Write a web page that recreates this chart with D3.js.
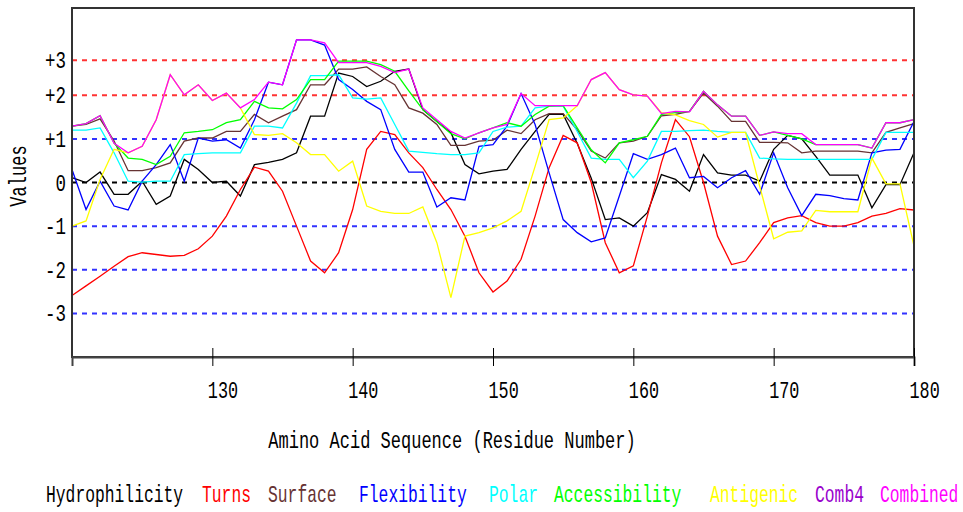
<!DOCTYPE html>
<html>
<head>
<meta charset="utf-8">
<script src="https://cdn.jsdelivr.net/npm/d3@7"></script>
<style>
  body { margin: 0; background: #fff; }
  text { font-family: "Liberation Mono", "DejaVu Sans Mono", monospace; fill: #000; }
</style>
</head>
<body>
<div id="chart"></div>
<script>
// residue numbers on the x axis
var residues = d3.range(120, 181);

// one value per residue
var hydrophilicity = [0.11,0.0,0.24,-0.27,-0.27,0.03,-0.5,-0.31,0.53,0.3,0.0,0.03,-0.31,0.41,0.46,0.53,0.68,1.52,1.52,2.51,2.43,2.2,2.32,2.55,2.6,1.67,1.4,1.14,0.41,0.2,0.26,0.3,0.76,1.17,1.56,1.56,0.9,0.1,-0.85,-0.81,-1.0,-0.69,0.18,0.07,-0.2,0.64,0.22,0.17,0.17,0.03,0.76,1.08,1.0,0.6,0.17,0.17,0.17,-0.58,-0.05,-0.05,0.68];
var turns = [-2.59,-2.37,-2.15,-1.92,-1.7,-1.61,-1.65,-1.69,-1.67,-1.52,-1.23,-0.77,-0.16,0.35,0.26,-0.2,-1.0,-1.8,-2.07,-1.61,-0.62,0.76,1.17,1.1,0.68,0.34,-0.16,-0.62,-1.23,-2.07,-2.51,-2.26,-1.76,-0.77,0.34,1.08,0.91,0.0,-1.38,-2.07,-1.91,-0.77,0.45,1.44,1.05,0.0,-1.23,-1.88,-1.8,-1.38,-0.92,-0.81,-0.76,-0.92,-1.0,-1.0,-0.92,-0.77,-0.71,-0.6,-0.63];
var surface = [1.29,1.33,1.46,0.95,0.27,0.27,0.34,0.45,0.95,1.02,1.02,1.17,1.17,1.56,1.37,1.52,1.67,2.24,2.24,2.6,2.6,2.65,2.43,2.24,1.71,1.59,1.33,0.85,0.85,0.95,0.97,1.2,1.12,1.44,1.58,1.58,1.21,0.72,0.56,0.91,0.95,1.06,1.53,1.56,1.63,2.05,1.75,1.4,1.4,0.92,0.92,0.91,0.68,0.72,0.72,0.72,0.72,0.68,1.15,1.25,1.35];
var flexibility = [0.3,-0.62,0.03,-0.54,-0.63,0.03,0.41,0.87,0.03,1.02,0.95,0.98,0.79,1.44,2.3,2.24,3.27,3.27,3.15,2.36,2.13,1.86,1.67,0.76,0.24,0.24,-0.56,-0.35,-0.4,0.83,0.87,1.29,2.04,1.33,0.22,-0.85,-1.15,-1.36,-1.27,-0.31,0.66,0.53,0.64,0.79,0.11,0.14,-0.12,0.11,0.27,-0.27,0.68,-0.12,-0.76,-0.27,-0.3,-0.37,-0.4,0.68,0.74,0.76,1.4];
var polar = [1.2,1.2,1.25,0.68,0.03,0.01,0.03,0.03,0.64,0.66,0.68,0.68,0.68,1.29,1.29,1.25,1.82,2.45,2.45,2.47,1.94,1.91,1.94,1.33,0.72,0.69,0.66,0.64,0.64,0.68,1.17,1.27,1.29,1.71,1.75,1.75,1.17,0.56,0.53,0.53,0.11,0.49,1.17,1.17,1.19,1.2,1.17,1.15,1.15,0.56,0.54,0.53,0.53,0.53,0.53,0.53,0.53,0.53,1.15,1.15,1.15];
var accessibility = [1.29,1.35,1.53,0.9,0.56,0.53,0.41,0.6,1.14,1.17,1.21,1.37,1.44,1.86,1.71,1.69,1.9,2.36,2.36,2.78,2.78,2.78,2.7,2.55,2.1,1.67,1.4,1.12,1.0,1.14,1.25,1.37,1.29,1.56,1.75,1.76,1.25,0.75,0.45,0.91,0.98,1.06,1.56,1.6,1.63,2.09,1.78,1.52,1.52,1.08,1.16,1.08,1.0,0.87,0.87,0.87,0.87,0.79,1.37,1.37,1.44];
var antigenic = [-1.0,-0.88,0.07,0.76,0.68,0.83,1.44,2.47,2.01,2.24,1.88,2.05,1.71,1.1,1.08,1.12,0.91,0.64,0.64,0.26,0.49,-0.54,-0.66,-0.71,-0.71,-0.56,-1.38,-2.64,-1.23,-1.15,-1.04,-0.88,-0.66,0.37,1.44,1.48,1.76,2.36,2.52,2.13,2.01,1.98,1.6,1.55,1.42,1.33,1.04,1.15,1.15,-0.08,-1.29,-1.14,-1.11,-0.64,-0.67,-0.67,-0.67,0.56,-0.03,-0.03,-1.46];
var combined = [1.29,1.35,1.53,0.9,0.68,0.83,1.44,2.47,2.01,2.24,1.88,2.05,1.71,1.9,2.3,2.24,3.27,3.27,3.2,2.75,2.75,2.75,2.66,2.52,2.6,1.71,1.44,1.17,1.02,1.14,1.25,1.33,2.04,1.76,1.76,1.76,1.76,2.36,2.52,2.13,2.01,1.98,1.58,1.63,1.62,2.09,1.78,1.52,1.52,1.08,1.16,1.12,1.12,0.87,0.87,0.87,0.87,0.79,1.37,1.37,1.44];

// legend / series names and colours (drawing order = legend order)
var seriesNames = ["Hydrophilicity","Turns","Surface","Flexibility","Polar","Accessibility","Antigenic","Comb4","Combined"];
var seriesColors = ["#000000","#ff0000","#663333","#0000ff","#00ffff","#00ff00","#ffff00","#9900cc","#ff00ff"];
var seriesValues = [hydrophilicity, turns, surface, flexibility, polar, accessibility, antigenic, null, combined];

// x ticks and the dashed reference lines
var xTicks = [130,140,150,160,170,180];
var refValues = [2.8, 2, 1, 0, -1, -2, -3];
var refLabels = ["+3","+2","+1","0","-1","-2","-3"];
var refColors = ["#ff3333","#ff3333","#3333ff","#000000","#3333ff","#3333ff","#3333ff"];

var width = 963, height = 512;
var margin = {top: 8, right: 49, bottom: 155, left: 72};
var fontPx = 23;
var squeeze = 0.72; // horizontal squeeze of the monospace glyphs

var svg = d3.select("#chart").append("svg")
    .attr("width", width)
    .attr("height", height);

var x = d3.scaleLinear().domain([120, 180]).range([margin.left, width - margin.right]);
var y = d3.scaleLinear().domain([-4, 4]).range([height - margin.bottom, margin.top]);

// put a text at (px, py) with narrow glyphs
function place(sel, px, py, sx) {
    sel.attr("x", 0).attr("y", 0)
        .style("font-size", fontPx + "px")
        .attr("transform", "translate(" + px + "," + py + ") scale(" + (sx || squeeze) + ",1)");
}

// dashed reference lines
svg.selectAll(".ref")
    .data(refValues)
    .enter().append("line")
    .attr("x1", x(120)).attr("x2", x(180))
    .attr("y1", d => y(d)).attr("y2", d => y(d))
    .attr("stroke", (d, i) => refColors[i])
    .attr("stroke-width", 2)
    .attr("stroke-dasharray", "5,5");

// y labels for reference lines
svg.selectAll(".reflabel")
    .data(refValues)
    .enter().append("text")
    .attr("text-anchor", "end")
    .text((d, i) => refLabels[i])
    .each(function(d) { place(d3.select(this), 66, y(d) + 8, 0.76); });

// series lines
var line = d3.line()
    .x((d, i) => x(residues[i]))
    .y(d => y(d));

seriesValues.forEach(function(vals, k) {
    if (!vals) return;
    svg.append("path")
        .datum(vals)
        .attr("fill", "none")
        .attr("stroke", seriesColors[k])
        .attr("stroke-width", 1.3)
        .attr("d", line);
});

// frame
svg.append("rect")
    .attr("x", x(120)).attr("y", y(4))
    .attr("width", x(180) - x(120)).attr("height", y(-4) - y(4))
    .attr("fill", "none")
    .attr("stroke", "#333")
    .attr("stroke-width", 2);

// x axis
var xAxis = svg.append("g")
    .attr("transform", "translate(0," + y(-4) + ")")
    .call(d3.axisBottom(x).tickValues(xTicks).tickSize(9).tickFormat(d3.format("d")));
xAxis.select(".domain").attr("stroke", "#444").attr("stroke-width", 2);
xAxis.selectAll(".tick line").attr("y1", -9).attr("y2", 9).attr("stroke", "#000");
xAxis.selectAll(".tick text")
    .attr("dy", null)
    .attr("text-anchor", "start")
    .style("font-family", "Liberation Mono")
    .attr("fill", "#000")
    .each(function() { place(d3.select(this), -5, 41, 0.7); })
    .style("font-size", "24px");

// axis titles
svg.append("text")
    .attr("text-anchor", "middle")
    .text("Amino Acid Sequence (Residue Number)")
    .call(place, 452, 448, 0.74);

svg.append("text")
    .attr("text-anchor", "middle")
    .text("Values")
    .attr("x", 0).attr("y", 0)
    .style("font-size", fontPx + "px")
    .attr("transform", "translate(26,176) rotate(-90) scale(0.74,1)");

// legend as coloured words
var legendX = [46, 202, 268, 359, 489, 554, 710, 815, 880];
svg.selectAll(".legend")
    .data(seriesNames)
    .enter().append("text")
    .style("fill", (d, i) => seriesColors[i])
    .text(d => d)
    .each(function(d, i) { place(d3.select(this), legendX[i], 502, 0.71); });
</script>
</body>
</html>
